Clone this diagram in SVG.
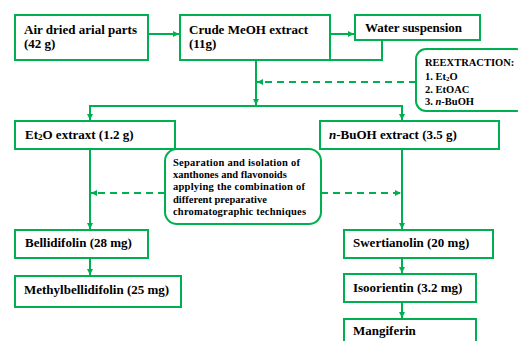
<svg xmlns="http://www.w3.org/2000/svg" width="518" height="341" viewBox="0 0 518 341">
<defs>
<marker id="ah" viewBox="0 0 10 10" refX="10" refY="5" markerWidth="6" markerHeight="6" markerUnits="userSpaceOnUse" orient="auto">
<path d="M0,0 L10,5 L0,10 z" fill="#00B050"/>
</marker>
<style>
.box{fill:#fff;stroke:#00B050;stroke-width:2}
.ln{fill:none;stroke:#00B050;stroke-width:2}
.ds{fill:none;stroke:#00B050;stroke-width:2;stroke-dasharray:7,5}
.t{font-family:"Liberation Serif","Times New Roman",serif;font-weight:bold;font-size:13px;fill:#000}
.s{font-family:"Liberation Serif","Times New Roman",serif;font-weight:bold;font-size:10.5px;fill:#000}
</style>
</defs>
<rect width="518" height="341" fill="#fff"/>
<g id="connectors">
<line class="ln" x1="148" y1="34" x2="179" y2="34" marker-end="url(#ah)"/>
<line class="ln" x1="330" y1="34" x2="354" y2="34" marker-end="url(#ah)"/>
<polyline class="ln" points="382,40 382,60 330,60"/>
<line class="ln" x1="256" y1="60" x2="256" y2="105" marker-end="url(#ah)"/>
<line class="ln" x1="89" y1="106" x2="403" y2="106"/>
<line class="ln" x1="90" y1="106" x2="90" y2="120" marker-end="url(#ah)"/>
<line class="ln" x1="402" y1="106" x2="402" y2="120" marker-end="url(#ah)"/>
<line class="ds" x1="416" y1="82" x2="257" y2="82" marker-end="url(#ah)"/>
<line class="ln" x1="90" y1="149" x2="90" y2="229" marker-end="url(#ah)"/>
<line class="ln" x1="402" y1="149" x2="402" y2="229" marker-end="url(#ah)"/>
<line class="ds" x1="165" y1="193" x2="91" y2="193" marker-end="url(#ah)"/>
<line class="ds" x1="321" y1="193" x2="401" y2="193" marker-end="url(#ah)"/>
<line class="ln" x1="90" y1="258" x2="90" y2="275" marker-end="url(#ah)"/>
<line class="ln" x1="402" y1="258" x2="402" y2="273" marker-end="url(#ah)"/>
<line class="ln" x1="402" y1="302" x2="402" y2="318" marker-end="url(#ah)"/>
</g>
<g id="n-air">
<rect class="box" x="15" y="15" width="133" height="45"/>
<text class="t" x="24" y="34" textLength="113" lengthAdjust="spacing">Air dried arial parts</text>
<text class="t" x="24" y="48">(42 g)</text>
</g>
<g id="n-crude">
<rect class="box" x="180" y="15" width="150" height="45"/>
<text class="t" x="189" y="34">Crude MeOH extract</text>
<text class="t" x="189" y="48">(11g)</text>
</g>
<g id="n-water">
<rect class="box" x="355" y="15" width="125" height="25"/>
<text class="t" x="365" y="32" textLength="97" lengthAdjust="spacing">Water suspension</text>
</g>
<g id="n-reex">
<rect class="box" x="416" y="49" width="110" height="62" rx="10"/>
<text class="s" x="425" y="66">REEXTRACTION:</text>
<text class="s" x="425" y="80">1. Et<tspan font-size="7" dy="1">2</tspan><tspan dy="-1">O</tspan></text>
<text class="s" x="425" y="93">2. EtOAC</text>
<text class="s" x="425" y="105">3. <tspan font-style="italic">n</tspan>-BuOH</text>
</g>
<g id="n-et2o">
<rect class="box" x="15" y="121" width="160" height="28"/>
<text class="t" x="25" y="139">Et<tspan font-size="9" dy="1">2</tspan><tspan dy="-1">O extraxt  (1.2 g)</tspan></text>
</g>
<g id="n-buoh">
<rect class="box" x="320" y="121" width="179" height="28"/>
<text class="t" x="329" y="139"><tspan font-style="italic">n</tspan>-BuOH extract  (3.5 g)</text>
</g>
<g id="n-sep">
<rect class="box" x="165" y="149" width="156" height="75" rx="12"/>
<text class="s" x="173" y="166" textLength="127" lengthAdjust="spacing">Separation and isolation of</text>
<text class="s" x="173" y="178">xanthones and flavonoids</text>
<text class="s" x="173" y="190" textLength="132" lengthAdjust="spacing">applying the combination of</text>
<text class="s" x="173" y="203">different preparative</text>
<text class="s" x="173" y="215" textLength="133" lengthAdjust="spacing">chromatographic techniques</text>
</g>
<g id="n-bell">
<rect class="box" x="15" y="230" width="133" height="28"/>
<text class="t" x="25" y="247">Bellidifolin  (28 mg)</text>
</g>
<g id="n-methyl">
<rect class="box" x="15" y="276" width="166" height="31"/>
<text class="t" x="24" y="294">Methylbellidifolin  (25 mg)</text>
</g>
<g id="n-swert">
<rect class="box" x="344" y="230" width="149" height="28"/>
<text class="t" x="353" y="247">Swertianolin  (20 mg)</text>
</g>
<g id="n-iso">
<rect class="box" x="344" y="274" width="132" height="28"/>
<text class="t" x="353" y="292">Isoorientin  (3.2 mg)</text>
</g>
<g id="n-mang">
<rect class="box" x="344" y="319" width="132" height="40"/>
<text class="t" x="353" y="335">Mangiferin</text>
</g>
</svg>
